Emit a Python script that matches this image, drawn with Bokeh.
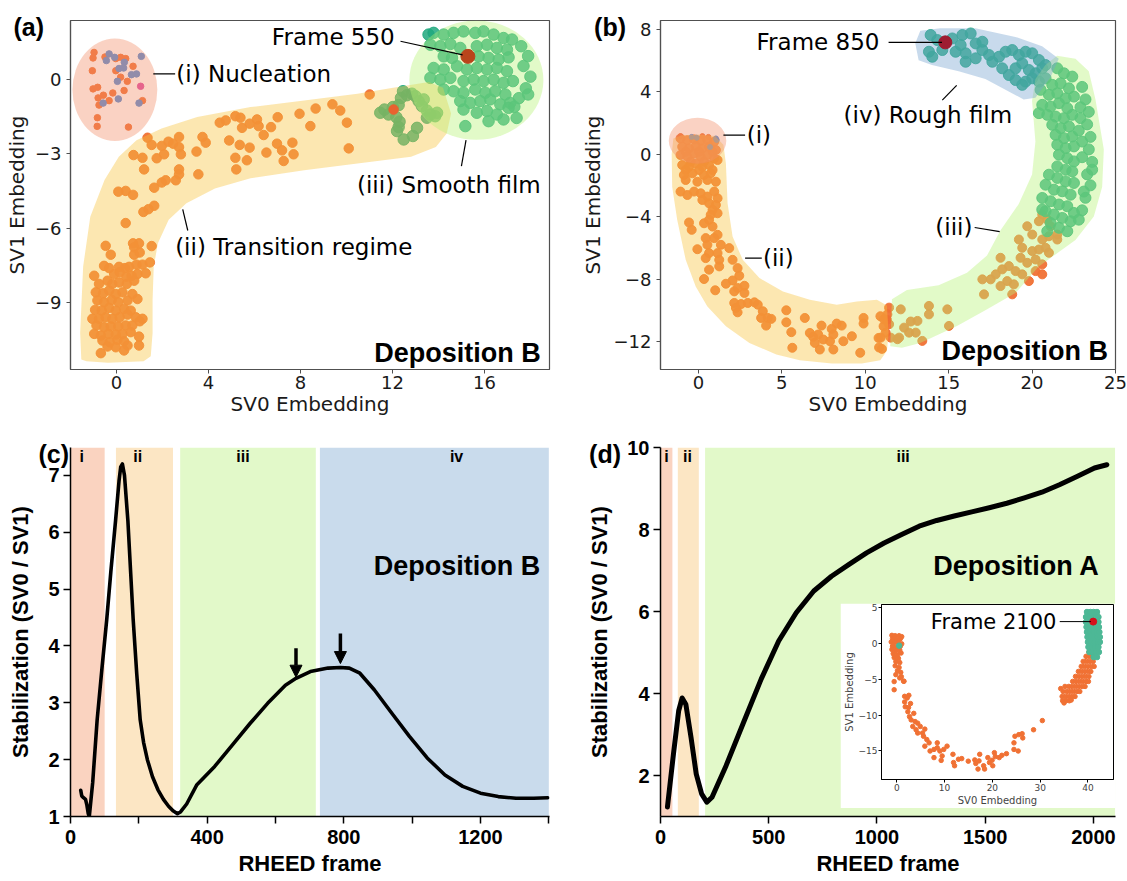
from bokeh.plotting import figure
from bokeh.models import Range1d, FixedTicker, Label, BoxAnnotation, Arrow, NormalHead, GridBox, Div
from bokeh.embed import file_html
from bokeh.resources import INLINE

# ------------------------------------------------------------------ data (a)
a_nuc_orange = [(-0.975, 1.10), (-1.02, 0.875), (-0.50, 0.915), (-0.03, 0.85), (0.18, 0.90), (0.40, 0.85),
                (-1.05, 0.36), (-0.03, 0.36), (0.18, 0.10), (0.72, 0.54), (-1.02, -0.375), (-0.82, -0.31),
                (-0.16, -0.54), (-0.57, -0.63), (-0.80, -0.74), (-0.32, -0.85), (0.33, -0.44), (1.13, -0.85),
                (0.47, -0.07), (-0.83, -1.54), (-0.84, -1.89), (0.52, -1.92), (-0.76, -1.03)]
a_nuc_blue = [(-0.32, 1.04), (-0.08, 0.90), (-0.44, 0.77), (0.34, 0.70), (0.11, 0.45), (0.31, 0.47), (0.65, 0.20),
              (0.87, 0.23), (0.04, -0.07), (0.08, -0.78), (-0.58, -0.95), (0.98, -0.95), (1.08, 0.94)]
a_nuc_magenta = [(1.05, -0.27)]
a_orange = [(-0.47, -6.72), (0.72, -6.62), (0.98, -6.62), (0.77, -6.78), (1.53, -6.73), (-0.25, -7.08), (0.77, -7.08),
            (1.01, -6.99), (-0.54, -7.53), (-0.32, -7.62), (0.11, -7.57), (0.37, -7.62), (0.55, -7.57), (0.87, -7.48),
            (1.13, -7.48), (1.45, -7.39), (-0.97, -7.93), (-0.10, -7.86), (0.14, -7.79), (0.43, -7.97), (0.66, -7.93),
            (0.91, -7.86), (-0.76, -8.26), (-0.39, -8.13), (-0.18, -8.26), (0.11, -8.2), (0.45, -8.26), (0.77, -8.13),
            (1.27, -7.83), (-0.90, -8.6), (-0.58, -8.64), (-0.32, -8.53), (-0.03, -8.67), (0.26, -8.6), (0.69, -8.67),
            (-0.83, -8.93), (-0.54, -9.0), (-0.21, -8.91), (0.08, -9.0), (0.48, -8.93), (0.91, -8.87), (-0.93, -9.31),
            (-0.64, -9.34), (-0.32, -9.23), (-0.03, -9.34), (0.33, -9.27), (0.62, -9.34), (-1.05, -9.67), (-0.76, -9.67),
            (-0.47, -9.61), (-0.18, -9.67), (0.14, -9.61), (0.48, -9.5), (0.84, -9.61), (1.13, -9.67), (-0.87, -9.94),
            (-0.54, -10.01), (-0.25, -9.98), (0.08, -9.98), (0.40, -9.94), (0.69, -9.94), (1.01, -9.77), (-0.97, -10.28),
            (-0.68, -10.35), (-0.35, -10.28), (-0.03, -10.31), (0.26, -10.28), (0.62, -10.21), (-0.61, -10.55),
            (-0.29, -10.62), (0.04, -10.52), (0.33, -10.58), (0.98, -10.39), (-0.39, -10.79), (-0.03, -10.82),
            (0.48, -10.75), (0.98, -10.75), (-0.68, -11.06), (0.33, -10.95),
            (4.49, -1.74), (4.75, -1.65), (4.90, -2.46), (1.35, -2.35), (1.53, -2.64), (1.97, -2.68), (2.26, -2.51),
            (2.46, -2.59), (2.72, -2.32), (2.72, -2.73), (2.80, -3.02), (3.48, -2.91), (3.74, -2.32), (3.88, -2.55),
            (2.07, -3.02), (1.75, -3.18), (1.13, -3.16), (0.74, -3.05), (1.20, -3.63), (2.72, -3.63), (2.72, -3.83),
            (2.58, -4.07), (3.56, -3.83), (2.14, -4.07), (1.97, -4.16), (1.64, -4.37), (0.40, -4.5), (0.08, -4.53),
            (0.72, -4.66), (1.64, -5.1), (1.39, -5.24), (1.17, -5.35), (0.40, -5.8),
            (5.17, -1.48), (5.39, -1.54), (5.46, -1.95), (5.79, -1.78), (6.11, -1.61), (6.18, -1.88), (6.40, -2.24),
            (6.72, -1.92), (7.01, -1.52), (7.96, -1.38), (8.43, -1.88), (8.66, -1.17), (9.39, -1.0), (9.73, -1.25),
            (10.02, -1.74), (5.36, -2.64), (5.79, -2.75), (6.52, -2.95), (6.98, -2.59), (7.20, -2.86), (7.65, -2.55),
            (7.70, -3.02), (7.27, -3.29), (5.67, -3.26), (5.17, -3.16), (5.21, -3.63), (10.1, -2.78), (11.01, -0.6)]
a_red_orange = [(12.05, -1.21)]
a_green = [(11.47, -1.34), (11.65, -1.21), (11.83, -1.41), (12.02, -1.11), (12.27, -1.03), (12.37, -0.74), (12.63, -0.63),
           (12.85, -0.57), (12.17, -1.52), (12.31, -1.70), (12.27, -1.92), (12.2, -2.08), (12.49, -2.42), (12.89, -2.28),
           (13.07, -1.95), (12.46, -0.47), (13.14, -0.87), (13.28, -1.07), (13.36, -0.80), (13.5, -1.25), (13.65, -1.41),
           (13.86, -1.48), (13.5, -1.54), (13.94, -1.34), (13.0, -0.67), (13.57, 1.82),
           (13.79, 1.89), (14.23, 1.82), (14.66, 1.89), (15.09, 1.95), (15.6, 1.89), (15.96, 1.95), (16.4, 1.82),
           (16.83, 1.68), (17.2, 1.62), (13.65, 1.41), (14.08, 1.35), (14.52, 1.44), (14.95, 1.28), (15.67, 1.35),
           (16.11, 1.41), (16.54, 1.28), (16.98, 1.21), (14.23, 0.94), (14.59, 0.88), (15.75, 0.94), (16.18, 0.88),
           (16.62, 0.81), (17.05, 0.9), (13.79, 0.47), (14.23, 0.41), (14.81, 0.54), (15.24, 0.41), (15.67, 0.47),
           (16.11, 0.41), (16.54, 0.47), (16.98, 0.34), (13.65, 0.07), (14.08, 0.0), (14.52, 0.07), (15.09, -0.06),
           (15.53, 0.0), (15.96, -0.06), (16.4, 0.0), (16.83, -0.13), (17.24, -0.06), (14.23, -0.4), (14.66, -0.47),
           (15.09, -0.53), (15.6, -0.4), (16.04, -0.53), (16.47, -0.47), (16.91, -0.6), (14.95, -0.87), (15.38, -0.94),
           (15.82, -0.87), (16.25, -0.8), (16.69, -1.0), (17.12, -0.94), (15.09, -1.21), (15.67, -1.34), (16.11, -1.27),
           (16.54, -1.41), (17.05, -1.14), (16.18, -1.68), (16.83, -1.61), (15.17, -1.88),
           (17.6, 1.35), (17.9, 0.95), (17.7, 0.55), (18.0, 0.12), (17.8, -0.35), (17.5, -0.75), (17.3, -1.1),
           (17.4, -1.55), (17.9, -0.6)]
a_frame550 = [(15.28, 0.94)]

# highlighted regions of (a)
a_nuc_region = dict(x=-0.07, y=-0.41, w=3.69, h=4.14)
a_smooth_region = dict(x=15.65, y=-0.02, w=5.83, h=4.82)
a_trans_region = [(-1.53, -11.32), (-1.58, -10.24), (-1.45, -7.56), (-1.14, -5.54), (-0.52, -4.06), (0.10, -3.12),
                  (0.87, -2.45), (1.96, -1.98), (3.51, -1.51), (5.83, -1.11), (8.16, -0.84), (10.48, -0.57),
                  (12.03, -0.33), (13.58, -0.10), (14.20, -0.33), (14.55, -1.37), (14.36, -2.18), (13.89, -2.72),
                  (12.81, -3.12), (10.48, -3.39), (8.16, -3.66), (5.83, -3.99), (4.28, -4.40), (3.04, -5.00),
                  (2.27, -5.67), (1.80, -6.62), (1.62, -7.56), (1.57, -8.90), (1.57, -10.24), (1.49, -11.18),
                  (1.18, -11.39), (-0.37, -11.45), (-1.30, -11.39)]

# ------------------------------------------------------------------ data (b)
b_nuc_red = [(-1.07, 1.15), (0.24, 1.15), (0.6, 1.1)]
b_nuc_blue = [(-0.4, 1.1), (1.05, 1.0), (1.1, 0.9), (0.7, 0.45), (-0.1, 1.05)]
b_orange = [(-1.07, 1.0), (-0.66, 0.89), (-0.26, 0.94), (0.14, 0.85), (0.54, 0.89), (0.95, 0.79), (-0.97, 0.47),
            (-0.56, 0.36), (-0.16, 0.51), (0.24, 0.36), (0.64, 0.47), (1.05, 0.26), (-0.76, 0.15), (0.04, 0.15),
            (0.85, 0.15), (-1.07, -0.06), (-0.66, -0.17), (-0.26, 0.04), (0.14, -0.17), (0.54, -0.06), (0.95, -0.28),
            (-0.46, -0.49), (0.34, -0.49), (1.15, -0.38), (-0.97, -0.7), (-0.56, -0.81), (-0.16, -0.6), (0.24, -0.81),
            (0.64, -0.7), (-0.76, -1.02), (0.04, -1.02), (0.85, -1.02), (-0.87, -1.34), (-0.36, -1.23), (0.34, -1.34),
            (0.74, -1.23), (-0.76, -1.66), (-0.06, -1.77), (0.54, -1.66), (1.05, -1.77), (-1.07, -2.4), (-0.66, -2.62),
            (-0.26, -2.4), (0.14, -2.51), (0.54, -2.72), (0.95, -2.4), (1.15, -2.83), (0.24, -2.94), (0.64, -3.15),
            (1.05, -3.26), (0.85, -3.57), (1.15, -3.79), (0.74, -3.89), (-0.56, -4.38), (-0.4, -4.85), (0.34, -4.43),
            (0.85, -4.64), (0.64, -4.21), (1.15, -5.17), (0.95, -5.38), (0.44, -5.38), (-0.06, -6.09), (0.54, -5.81),
            (1.35, -5.81), (1.85, -6.02), (1.15, -6.34), (0.64, -6.34), (0.44, -6.66), (1.25, -6.77), (2.05, -6.77),
            (1.25, -7.19), (2.35, -7.3), (0.64, -7.4), (0.34, -8.0), (2.45, -7.79), (2.05, -8.09), (1.65, -8.3),
            (2.35, -8.57), (2.76, -8.43), (1.01, -8.72), (2.15, -8.79), (2.76, -8.89), (2.15, -9.53), (2.56, -9.6),
            (2.96, -9.53), (3.36, -9.49), (3.56, -9.64), (2.25, -9.85), (2.35, -10.13), (3.86, -10.06), (3.76, -10.49),
            (4.16, -10.49), (4.37, -10.55), (4.06, -10.98), (5.27, -10.0), (5.27, -10.77), (5.57, -11.4), (5.63, -12.4),
            (6.38, -10.49), (6.68, -11.45), (6.88, -11.7), (7.18, -11.55), (7.38, -10.98), (7.48, -11.87), (7.89, -11.98),
            (7.99, -11.19), (8.09, -11.55), (8.29, -10.85), (8.59, -10.98), (8.09, -12.51), (7.28, -12.51), (6.98, -12.09),
            (8.69, -11.98), (9.2, -11.66), (9.7, -12.72), (9.9, -10.49), (9.9, -10.85), (10.91, -10.38), (10.8, -11.77),
            (11.0, -12.47), (11.1, -11.02), (11.3, -10.6),
            (11.43, -9.83), (11.33, -10.26), (11.13, -10.58), (11.43, -10.89), (11.23, -11.43), (10.93, -11.75),
            (11.53, -11.75), (11.93, -11.85), (10.83, -12.38),
            (20.61, -3.87), (20.91, -4.19), (20.41, -4.3), (21.11, -4.62), (21.51, -5.15), (21.01, -5.26), (20.61, -5.47),
            (19.71, -4.62), (19.21, -5.47), (19.41, -6.0), (20.01, -6.21), (20.41, -6.11), (20.81, -6.0), (19.31, -6.64),
            (19.71, -6.96), (20.21, -6.75), (20.61, -7.06), (21.01, -6.32), (18.61, -7.17), (19.01, -7.49), (18.11, -6.64),
            (18.21, -7.38), (17.82, -7.7), (17.52, -8.02), (17.02, -8.02), (18.51, -8.13), (18.91, -8.34), (19.41, -7.7),
            (19.81, -8.13), (18.81, -8.98), (17.12, -8.98), (18.11, -8.45), (20.21, -7.49), (20.61, -7.7), (21.51, -5.47),
            (20.01, -5.15),
            (12.13, -9.94), (13.13, -10.68), (12.73, -10.72), (13.82, -9.72), (14.92, -9.94), (15.02, -11.0),
            (12.33, -11.11), (12.63, -11.43), (13.03, -11.43), (13.42, -11.96), (12.03, -11.75), (13.82, -10.26)]
b_green = [(13.92, 7.62), (14.32, 7.3), (13.82, 6.55), (14.02, 6.23), (14.62, 6.66), (15.22, 7.4), (15.82, 7.62),
           (16.32, 7.72), (15.72, 6.98), (15.42, 6.55), (16.02, 6.45), (16.62, 7.08), (17.02, 7.19), (17.02, 6.66),
           (17.42, 6.34), (16.62, 6.13), (16.02, 5.91), (17.62, 5.91), (18.02, 6.23), (18.41, 6.55), (18.81, 6.66),
           (19.21, 6.34), (19.61, 6.55), (20.01, 6.45), (20.41, 6.02), (18.21, 5.49), (18.61, 5.06), (19.01, 5.49),
           (19.41, 5.81), (19.81, 5.38), (20.21, 5.17), (20.61, 5.49), (19.01, 4.74), (19.61, 4.64), (20.01, 4.85),
           (20.81, 5.7), (20.41, 4.64), (19.41, 4.43),
           (21.51, 5.49), (21.91, 5.17), (22.41, 4.96), (20.81, 4.85), (21.21, 4.43), (21.71, 4.53), (22.21, 4.21),
           (20.51, 4.11), (21.01, 3.79), (21.51, 3.89), (22.01, 3.57), (22.51, 3.68), (20.61, 3.15), (21.11, 3.04),
           (21.61, 3.26), (22.11, 2.94), (20.41, 2.62), (20.91, 2.51), (21.41, 2.4), (21.91, 2.3), (22.41, 2.51),
           (21.21, 1.87), (21.71, 1.66), (22.21, 1.77), (21.41, 1.23), (21.91, 1.02), (22.41, 1.13), (21.51, 0.6),
           (22.01, 0.38), (22.51, 0.49), (21.61, -0.04), (22.11, -0.26), (22.51, -0.47), (21.51, -0.79), (22.01, -1.0),
           (22.41, -1.11), (21.01, -1.32), (21.51, -1.53), (22.01, -1.75), (22.51, -1.85), (20.81, -1.96),
           (21.31, -2.28), (21.81, -2.38), (22.31, -2.6), (20.61, -2.81), (21.11, -3.02), (21.61, -3.23), (22.11, -3.34),
           (20.81, -3.66), (21.31, -3.87), (21.81, -4.09), (22.31, -4.3), (21.11, -4.41), (21.61, -4.72), (22.11, -4.94),
           (20.91, -4.94), (20.61, -3.55), (22.51, -3.77),
           (23.0, 4.3), (23.2, 3.5), (23.4, 2.7), (23.3, 1.9), (23.5, 1.1), (23.4, 0.3), (23.6, -0.5), (23.3, -1.3),
           (23.5, -2.0), (23.2, -2.8), (23.0, -3.6), (22.8, -4.2), (23.6, -1.0), (23.0, 0.8), (22.9, 2.3), (23.1, -2.4),
           (22.9, 3.0), (23.0, -0.2), (22.8, 1.5)]
b_frame850 = [(14.8, 7.15)]

b_nuc_region = dict(x=-0.05, y=0.85, w=3.45, h=2.95)
b_trans_region = [(-1.5, 1.0), (-1.6, 0.0), (-1.57, -2.09), (-1.27, -4.21), (-0.76, -6.77), (-0.16, -8.47), (0.54, -9.75),
                  (1.65, -11.02), (3.06, -12.09), (4.67, -12.83), (6.08, -13.2), (8.0, -13.4), (9.8, -13.4),
                  (10.9, -13.2), (11.3, -12.6), (11.4, -11.5), (11.3, -9.7), (10.7, -9.32), (9.5, -9.43), (8.29, -9.64),
                  (6.68, -9.32), (5.07, -8.79), (3.66, -7.94), (2.66, -6.77), (2.05, -5.28), (1.75, -3.15), (1.65, -0.6),
                  (1.5, 0.6), (1.0, 1.15), (0.0, 1.25), (-1.0, 1.2)]
b_smooth_region = [(11.5, -12.3), (11.6, -9.3), (12.5, -8.7), (14.4, -8.4), (16.1, -7.6), (17.3, -6.5), (18.1, -4.9),
                   (19.2, -3.2), (20.0, -1.3), (20.2, 0.8), (20.0, 3.4), (20.2, 4.8), (20.8, 5.7), (21.5, 6.3),
                   (22.6, 6.1), (23.4, 5.3), (23.8, 3.5), (24.3, 0.3), (24.2, -2.1), (23.7, -4.0), (22.6, -5.5),
                   (20.4, -7.2), (19.0, -8.9), (17.2, -10.0), (15.5, -11.0), (13.3, -12.1), (12.2, -12.4)]
b_rough_region = [(13.0, 7.1), (13.3, 7.9), (14.5, 8.05), (16.6, 8.05), (19.0, 7.5), (20.6, 6.9), (21.6, 6.1),
                  (21.1, 4.9), (20.2, 3.6), (19.5, 3.5), (18.6, 4.0), (17.2, 4.8), (15.6, 5.3), (14.0, 5.7), (13.2, 6.0)]

# ------------------------------------------------------------------ data (c)
c_frame = [30, 33, 38, 44, 48, 52, 55, 65, 78, 92, 106, 118, 132, 142, 147, 152, 158, 163, 168, 176, 183.5, 194, 204,
           214, 225, 240, 256, 272, 287, 300, 313, 322, 340, 370, 422, 474, 526, 577, 629, 660, 702, 754, 790, 816,
           847, 889, 940, 992, 1044, 1096, 1148, 1200, 1252, 1304, 1356, 1397]
c_stab = [1.46, 1.36, 1.33, 1.30, 1.2, 1.05, 1.0, 1.6, 2.7, 3.6, 4.46, 5.3, 6.21, 6.9, 7.15, 7.2, 7.0, 6.6, 6.2, 5.3,
          4.46, 3.5, 2.7, 2.3, 2.0, 1.7, 1.47, 1.3, 1.18, 1.1, 1.05, 1.08, 1.22, 1.56, 1.88, 2.26, 2.64, 2.99, 3.31,
          3.43, 3.55, 3.61, 3.62, 3.61, 3.52, 3.23, 2.82, 2.41, 2.03, 1.73, 1.53, 1.41, 1.35, 1.32, 1.32, 1.33]
c_band_start = [0, 133, 321, 730]
c_band_end = [100, 300, 718, 1400]
c_band_names = ["i", "ii", "iii", "iv"]
c_band_label_x = [33, 197, 505, 1130]
c_arrow_x = [660, 790]
c_arrow_top = [3.96, 4.22]
c_arrow_tip = [3.45, 3.69]

# ------------------------------------------------------------------ data (d)
d_frame = [32, 60, 84, 100, 117, 141, 165, 190, 214, 238, 303, 384, 465, 546, 627, 708, 790, 871, 952, 1033, 1114,
           1195, 1276, 1357, 1438, 1519, 1600, 1681, 1762, 1843, 1924, 2005, 2062]
d_stab = [1.23, 2.53, 3.58, 3.89, 3.74, 2.93, 2.04, 1.55, 1.35, 1.47, 2.24, 3.30, 4.35, 5.28, 5.97, 6.50, 6.86, 7.15,
          7.43, 7.67, 7.88, 8.08, 8.22, 8.33, 8.43, 8.53, 8.64, 8.77, 8.91, 9.09, 9.29, 9.50, 9.58]
d_band_start = [0, 80, 206]
d_band_end = [55, 177, 2100]
d_band_names = ["i", "ii", "iii"]
d_band_label_x = [27.5, 125, 1121]

# inset of (d)
in_orange = [(-1.02, 1.14), (-0.34, 1.09), (0.48, 1.09), (1.03, 0.96), (-0.89, 0.68), (-0.07, 0.54), (0.75, 0.68),
             (-1.16, 0.22), (-0.48, 0.09), (0.34, 0.13), (1.03, -0.05), (-0.89, -0.37), (-0.07, -0.51), (0.75, -0.37),
             (-1.02, -0.83), (-0.2, -0.97), (0.62, -0.92), (-0.75, -1.42), (0.14, -1.52), (0.89, -1.33), (-0.54, -1.97),
             (0.34, -2.07), (-0.2, -2.52), (0.62, -2.66), (-0.34, -3.12), (0.48, -3.35), (0.14, -3.81), (0.82, -4.03),
             (-0.2, -4.35), (0.62, -4.81), (1.5, -5.27),
             (-0.55, -5.32), (-0.55, -6.46), (0.95, -4.63), (1.43, -5.27), (1.64, -7.38), (2.18, -7.61), (1.64, -8.16),
             (2.52, -7.24), (1.77, -8.84), (2.46, -8.93), (2.87, -8.39), (2.32, -9.53), (2.66, -10.22), (3.55, -9.76),
             (3.0, -10.67), (3.82, -10.9), (3.34, -11.59), (4.37, -11.13), (4.03, -12.05), (4.91, -11.59),
             (5.39, -12.51), (5.87, -11.96), (5.6, -12.96), (6.28, -13.42), (5.87, -14.34), (6.76, -13.88),
             (7.78, -14.8), (8.47, -14.57), (9.01, -15.02), (9.49, -15.71), (9.29, -16.33), (10.52, -14.34),
             (11.75, -15.48), (11.88, -16.63), (12.09, -17.08), (12.91, -16.17), (13.59, -16.08), (14.96, -16.44),
             (16.32, -16.26), (16.53, -16.76), (17.21, -16.4), (17.0, -17.54), (18.17, -17.08), (18.37, -17.54),
             (17.35, -15.48), (19.05, -15.94), (19.4, -16.63), (19.94, -16.31), (20.08, -17.08), (20.42, -15.25),
             (20.62, -15.8), (21.44, -15.94), (21.99, -15.62), (22.95, -15.39), (24.52, -14.8), (24.52, -13.88),
             (24.72, -12.96), (25.54, -12.73), (26.23, -12.6), (26.36, -13.19), (25.41, -15.02), (28.62, -12.05),
             (30.46, -10.77), (7.78, -15.94), (8.47, -13.88), (9.83, -14.8), (6.96, -15.02), (4.37, -12.51),
             (40.2, -1.2), (40.9, -1.2),
             (39.6, -1.8), (40.3, -1.8), (41.0, -1.8),
             (39.0, -2.5), (39.7, -2.5), (40.4, -2.5), (41.1, -2.5),
             (38.6, -3.2), (39.3, -3.2), (40.0, -3.2), (40.7, -3.2), (41.3, -3.2),
             (38.0, -3.9), (38.7, -3.9), (39.4, -3.9), (40.1, -3.9), (40.6, -3.9),
             (37.4, -4.6), (38.1, -4.6), (38.8, -4.6), (39.5, -4.6), (40.2, -4.6),
             (36.8, -5.3), (37.5, -5.3), (38.2, -5.3), (38.9, -5.3), (39.6, -5.3), (40.1, -5.3),
             (35.2, -6.0), (36.0, -6.0), (36.7, -6.0), (37.4, -6.0), (38.1, -6.0), (38.8, -6.0), (39.4, -6.0),
             (34.8, -6.7), (35.6, -6.7), (36.3, -6.7), (37.0, -6.7), (37.7, -6.7), (38.3, -6.7),
             (34.6, -7.4), (35.3, -7.4), (36.0, -7.4), (36.7, -7.4), (37.3, -7.4),
             (34.7, -8.0), (35.4, -8.0), (36.1, -8.0), (34.3, -6.3), (35.0, -8.3), (36.5, -7.9)]
in_green = [(0.5, -0.3),
            (39.8, 4.4), (40.5, 4.4), (41.2, 4.4), (41.9, 4.4),
            (39.6, 3.7), (40.3, 3.7), (41.0, 3.7), (41.7, 3.7), (42.2, 3.7),
            (39.6, 3.0), (40.3, 3.0), (41.0, 3.0), (41.7, 3.0), (42.2, 3.0),
            (39.7, 2.3), (40.4, 2.3), (41.1, 2.3), (41.8, 2.3), (42.3, 2.3),
            (39.8, 1.6), (40.5, 1.6), (41.2, 1.6), (41.9, 1.6), (42.4, 1.6),
            (39.9, 0.9), (40.6, 0.9), (41.3, 0.9), (42.0, 0.9), (42.5, 0.9),
            (40.0, 0.2), (40.7, 0.2), (41.4, 0.2), (42.1, 0.2), (42.5, 0.2),
            (40.1, -0.5), (40.8, -0.5), (41.5, -0.5), (42.2, -0.5),
            (40.3, -1.2), (41.0, -1.2), (41.7, -1.2), (42.3, -1.2),
            (41.2, -1.9), (41.9, -1.9)]
in_frame2100 = [(41.1, 3.06)]

panel_tags = ["(a)", "(b)", "(c)", "(d)"]

# ------------------------------------------------------------------ colours
ORANGE = "#F07134"
GREEN = "#20A87E"
BLUE_PT = "#508AD5"
MAGENTA = "#DE48A3"
OV_PINK, OV_YELLOW, OV_GREEN, OV_BLUE = "#F28E69", "#F7C33C", "#B6F275", "#75A2CF"
OV_ALPHA = 0.4
BAND_COLORS = ["#FAD3C0", "#FCE6C4", "#E2F9C9", "#C9DBEC"]

SANS = "DejaVu Sans"
ARIAL = "Liberation Sans"


def xs(pts):
    return [p[0] for p in pts]


def ys(pts):
    return [p[1] for p in pts]


def minus(t):
    return ("\u2212" + str(abs(t))) if t < 0 else str(t)


def label(p, x, y, text, size, font=SANS, bold=False, align="left", baseline="middle"):
    p.add_layout(Label(x=x, y=y, text=text, text_font=font, text_font_size=size,
                       text_font_style="bold" if bold else "normal", text_align=align,
                       text_baseline=baseline, text_color="black"))


def style_embed(p, xt, yt, xlabel, ylabel, ylab_standoff):
    p.grid.visible = False
    p.outline_line_color = "#505050"
    p.outline_line_width = 1.2
    p.xaxis.ticker = FixedTicker(ticks=xt)
    p.yaxis.ticker = FixedTicker(ticks=yt)
    p.xaxis.major_label_overrides = {t: minus(t) for t in xt}
    p.yaxis.major_label_overrides = {t: minus(t) for t in yt}
    p.xaxis.axis_label = xlabel
    p.yaxis.axis_label = ylabel
    for ax in (p.xaxis[0], p.yaxis[0]):
        ax.axis_line_color = "#505050"
        ax.axis_line_width = 1.2
        ax.major_tick_line_color = "#505050"
        ax.major_tick_out = 4
        ax.major_tick_in = 0
        ax.minor_tick_line_color = None
        ax.major_label_text_font = SANS
        ax.major_label_text_font_size = "18px"
        ax.major_label_text_color = "#1a1a1a"
        ax.axis_label_text_font = SANS
        ax.axis_label_text_font_size = "20px"
        ax.axis_label_text_font_style = "normal"
        ax.axis_label_text_color = "#1a1a1a"
    p.xaxis.major_label_standoff = 2
    p.yaxis.major_label_standoff = 5
    p.xaxis.axis_label_standoff = 0
    p.yaxis.axis_label_standoff = ylab_standoff


def style_stab(p, xt, yt, x_overrides):
    p.grid.visible = False
    p.outline_line_color = None
    p.xaxis.ticker = FixedTicker(ticks=xt)
    p.yaxis.ticker = FixedTicker(ticks=yt)
    p.xaxis.major_label_overrides = x_overrides
    p.xaxis.axis_label = "RHEED frame"
    p.yaxis.axis_label = "Stabilization (SV0 / SV1)"
    for ax in (p.xaxis[0], p.yaxis[0]):
        ax.axis_line_color = "black"
        ax.axis_line_width = 1.5
        ax.major_tick_line_color = "black"
        ax.major_tick_line_width = 1.5
        ax.major_tick_out = 7
        ax.major_tick_in = 0
        ax.minor_tick_line_color = None
        ax.major_label_text_font = ARIAL
        ax.major_label_text_font_style = "bold"
        ax.major_label_text_font_size = "20px"
        ax.major_label_text_color = "black"
        ax.axis_label_text_font = ARIAL
        ax.axis_label_text_font_style = "bold"
        ax.axis_label_text_font_size = "22px"
        ax.axis_label_text_color = "black"
    p.xaxis.major_label_standoff = 6
    p.yaxis.major_label_standoff = 4
    p.xaxis.axis_label_standoff = 4
    p.yaxis.axis_label_standoff = 12


# ------------------------------------------------------------------ panel (a)
pa = figure(width=560, height=420, x_range=Range1d(-2.0, 18.83), y_range=Range1d(-11.72, 2.39),
            output_backend="svg", toolbar_location=None,
            min_border_left=70, min_border_right=11, min_border_top=20, min_border_bottom=51)
style_embed(pa, [0, 4, 8, 12, 16], [-9, -6, -3, 0], "SV0 Embedding", "SV1 Embedding", 3)

pa.scatter(xs(a_orange), ys(a_orange), size=9.5, fill_color=ORANGE, line_color=ORANGE, alpha=0.95)
pa.scatter(xs(a_green), ys(a_green), size=11.5, fill_color=GREEN, line_color=GREEN, fill_alpha=0.85, line_alpha=0.9)
pa.scatter(xs(a_nuc_orange), ys(a_nuc_orange), size=6.5, fill_color=ORANGE, line_color=ORANGE)
pa.scatter(xs(a_nuc_blue), ys(a_nuc_blue), size=6.5, fill_color=BLUE_PT, line_color=BLUE_PT)
pa.scatter(xs(a_nuc_magenta), ys(a_nuc_magenta), size=6.5, fill_color=MAGENTA, line_color=MAGENTA)

pa.patch(xs(a_trans_region), ys(a_trans_region), fill_color=OV_YELLOW, fill_alpha=OV_ALPHA, line_color=None)
pa.ellipse(x=[a_smooth_region["x"]], y=[a_smooth_region["y"]], width=[a_smooth_region["w"]],
           height=[a_smooth_region["h"]], fill_color=OV_GREEN, fill_alpha=OV_ALPHA, line_color=None)
pa.ellipse(x=[a_nuc_region["x"]], y=[a_nuc_region["y"]], width=[a_nuc_region["w"]],
           height=[a_nuc_region["h"]], fill_color=OV_PINK, fill_alpha=OV_ALPHA, line_color=None)
pa.scatter(xs(a_red_orange), ys(a_red_orange), size=9.5, fill_color="#E8622F", line_color="#E8622F")
pa.scatter(xs(a_frame550), ys(a_frame550), size=14, fill_color="#B9441B", line_color="#B9441B")

pa.line([12.35, 15.05], [1.55, 1.0], line_color="black", line_width=1.2)
pa.line([1.6, 2.55], [0.23, 0.23], line_color="black", line_width=1.2)
pa.line([2.88, 3.1], [-5.25, -6.1], line_color="black", line_width=1.2)
pa.line([15.2, 15.0], [-2.45, -3.5], line_color="black", line_width=1.2)
label(pa, 12.1, 1.74, "Frame 550", "23px", align="right")
label(pa, 2.6, 0.24, "(i) Nucleation", "23px")
label(pa, 2.55, -6.75, "(ii) Transition regime", "23px")
label(pa, 18.45, -4.25, "(iii) Smooth film", "23px", align="right")
label(pa, 18.45, -11.05, "Deposition B", "27px", font=ARIAL, bold=True, align="right")

# ------------------------------------------------------------------ panel (b)
pb = figure(width=567, height=420, x_range=Range1d(-2.27, 25.0), y_range=Range1d(-13.79, 8.55),
            output_backend="svg", toolbar_location=None,
            min_border_left=100, min_border_right=12, min_border_top=20, min_border_bottom=51)
style_embed(pb, [0, 5, 10, 15, 20, 25], [-12, -8, -4, 0, 4, 8], "SV0 Embedding", "SV1 Embedding", 6)

pb.scatter(xs(b_orange), ys(b_orange), size=9, fill_color=ORANGE, line_color=ORANGE, alpha=0.95)
pb.scatter(xs(b_green), ys(b_green), size=11, fill_color=GREEN, line_color=GREEN, fill_alpha=0.85, line_alpha=0.9)
pb.scatter(xs(b_nuc_red), ys(b_nuc_red), size=5, fill_color=ORANGE, line_color=ORANGE)
pb.scatter(xs(b_nuc_blue), ys(b_nuc_blue), size=5, fill_color=BLUE_PT, line_color=BLUE_PT)

pb.patch(xs(b_trans_region), ys(b_trans_region), fill_color=OV_YELLOW, fill_alpha=OV_ALPHA, line_color=None)
pb.patch(xs(b_smooth_region), ys(b_smooth_region), fill_color=OV_GREEN, fill_alpha=OV_ALPHA, line_color=None)
pb.patch(xs(b_rough_region), ys(b_rough_region), fill_color=OV_BLUE, fill_alpha=OV_ALPHA, line_color=None)
pb.ellipse(x=[b_nuc_region["x"]], y=[b_nuc_region["y"]], width=[b_nuc_region["w"]],
           height=[b_nuc_region["h"]], fill_color=OV_PINK, fill_alpha=OV_ALPHA, line_color=None)
pb.scatter(xs(b_frame850), ys(b_frame850), size=13, fill_color="#9E1C32", line_color="#9E1C32")

pb.line([11.4, 14.6], [7.15, 7.15], line_color="black", line_width=1.2)
pb.line([14.62, 15.48], [3.45, 4.4], line_color="black", line_width=1.2)
pb.line([1.5, 2.8], [1.21, 1.21], line_color="black", line_width=1.2)
pb.line([2.8, 3.8], [-6.66, -6.66], line_color="black", line_width=1.2)
pb.line([16.56, 18.06], [-4.7, -4.96], line_color="black", line_width=1.2)
label(pb, 10.85, 7.15, "Frame 850", "23px", align="right")
label(pb, 8.7, 2.49, "(iv) Rough film", "23px")
label(pb, 2.9, 1.21, "(i)", "23px")
label(pb, 3.87, -6.66, "(ii)", "23px")
label(pb, 14.2, -4.64, "(iii)", "23px")
label(pb, 24.55, -12.62, "Deposition B", "27px", font=ARIAL, bold=True, align="right")

# ------------------------------------------------------------------ panel (c)
pc = figure(width=560, height=461, x_range=Range1d(0, 1402), y_range=Range1d(1, 7.49),
            output_backend="svg", toolbar_location=None,
            min_border_left=69, min_border_right=8, min_border_top=27, min_border_bottom=64)
style_stab(pc, [0, 200, 400, 600, 800, 1000, 1200, 1400], [1, 2, 3, 4, 5, 6, 7],
           {0: "0", 200: "", 400: "400", 600: "", 800: "800", 1000: "", 1200: "1200", 1400: ""})
for s, e, col in zip(c_band_start, c_band_end, BAND_COLORS):
    pc.add_layout(BoxAnnotation(left=s, right=e, fill_color=col, fill_alpha=1.0, line_color=None, level="underlay"))
pc.line(c_frame, c_stab, line_color="black", line_width=3.6, line_join="round", line_cap="round")
for ax_, t_, b_ in zip(c_arrow_x, c_arrow_top, c_arrow_tip):
    pc.add_layout(Arrow(end=NormalHead(size=12, fill_color="black", line_color="black", line_width=1),
                        x_start=ax_, y_start=t_, x_end=ax_, y_end=b_, line_width=3.5, line_color="black"))
for nm, lx in zip(c_band_names, c_band_label_x):
    label(pc, lx, 7.33, nm, "16px", font=ARIAL, bold=True, align="center")
label(pc, 1375, 5.41, "Deposition B", "27px", font=ARIAL, bold=True, align="right")

# ------------------------------------------------------------------ panel (d)
pd = figure(width=567, height=461, x_range=Range1d(0, 2102), y_range=Range1d(1, 10),
            output_backend="svg", toolbar_location=None,
            min_border_left=95, min_border_right=3, min_border_top=26, min_border_bottom=65)
style_stab(pd, [0, 500, 1000, 1500, 2000], [2, 4, 6, 8, 10], {})
for s, e, col in zip(d_band_start, d_band_end, BAND_COLORS):
    pd.add_layout(BoxAnnotation(left=s, right=e, fill_color=col, fill_alpha=1.0, line_color=None, level="underlay"))
pd.line(d_frame, d_stab, line_color="black", line_width=5, line_join="round", line_cap="round")
for nm, lx in zip(d_band_names, d_band_label_x):
    label(pd, lx, 9.78, nm, "16px", font=ARIAL, bold=True, align="center")
label(pd, 2029, 7.11, "Deposition A", "27px", font=ARIAL, bold=True, align="right")

# ------------------------------------------------------------------ inset
pin = figure(width=275, height=205, x_range=Range1d(-3.2, 45.35), y_range=Range1d(-19, 5.45),
             output_backend="svg", toolbar_location=None,
             min_border_left=36, min_border_right=2, min_border_top=1, min_border_bottom=27)
pin.grid.visible = False
pin.outline_line_color = "black"
pin.outline_line_width = 1
pin.xaxis.ticker = FixedTicker(ticks=[0, 10, 20, 30, 40])
pin.yaxis.ticker = FixedTicker(ticks=[-15, -10, -5, 0, 5])
pin.yaxis.major_label_overrides = {t: minus(t) for t in [-15, -10, -5, 0, 5]}
pin.xaxis.axis_label = "SV0 Embedding"
pin.yaxis.axis_label = "SV1 Embedding"
for ax in (pin.xaxis[0], pin.yaxis[0]):
    ax.axis_line_color = "black"
    ax.major_tick_line_color = "black"
    ax.major_tick_out = 3
    ax.major_tick_in = 0
    ax.minor_tick_line_color = None
    ax.major_label_text_font = SANS
    ax.major_label_text_font_size = "9px"
    ax.major_label_standoff = 1
    ax.axis_label_text_font = SANS
    ax.axis_label_text_font_size = "10px"
    ax.axis_label_text_font_style = "normal"
    ax.axis_label_standoff = 1
pin.scatter(xs(in_orange), ys(in_orange), size=4.5, fill_color=ORANGE, line_color=ORANGE)
pin.scatter(xs(in_green), ys(in_green), size=5.5, fill_color="#4DB896", line_color="#4DB896")
pin.scatter(xs(in_frame2100), ys(in_frame2100), size=7, fill_color="#D6101C", line_color="#D6101C")
pin.line([34.1, 40.6], [3.06, 3.06], line_color="black", line_width=1)
label(pin, 33.4, 3.06, "Frame 2100", "21px", align="right")

# ------------------------------------------------------------------ panel tags (outside plot frames)
# each tag box starts at its grid cell's left edge; the text is right-aligned inside the box
tag_box_width = [44, 66, 69, 61]
tag_top = [15, 15, 22, 22]
tags = []
for t, w, top in zip(panel_tags, tag_box_width, tag_top):
    tags.append(Div(text=t, width=w, height=28, margin=(top, 0, 0, 0),
                    styles={"font-family": ARIAL, "font-weight": "bold", "font-size": "25px",
                            "line-height": "25px", "color": "black", "white-space": "nowrap",
                            "text-align": "right"}))

# ------------------------------------------------------------------ layout
grid = GridBox(children=[(pa, 0, 0, 1, 1), (pb, 0, 1, 1, 3), (pc, 1, 0, 3, 1), (pd, 1, 1, 3, 3), (pin, 2, 2, 1, 1),
                         (tags[0], 0, 0, 1, 1), (tags[1], 0, 1, 1, 3), (tags[2], 1, 0, 3, 1), (tags[3], 1, 1, 3, 3)],
               rows=["420px", "183px", "205px", "73px"], cols=["560px", "280px", "275px", "12px"])

open("out.html", "w").write(file_html(grid, INLINE))
